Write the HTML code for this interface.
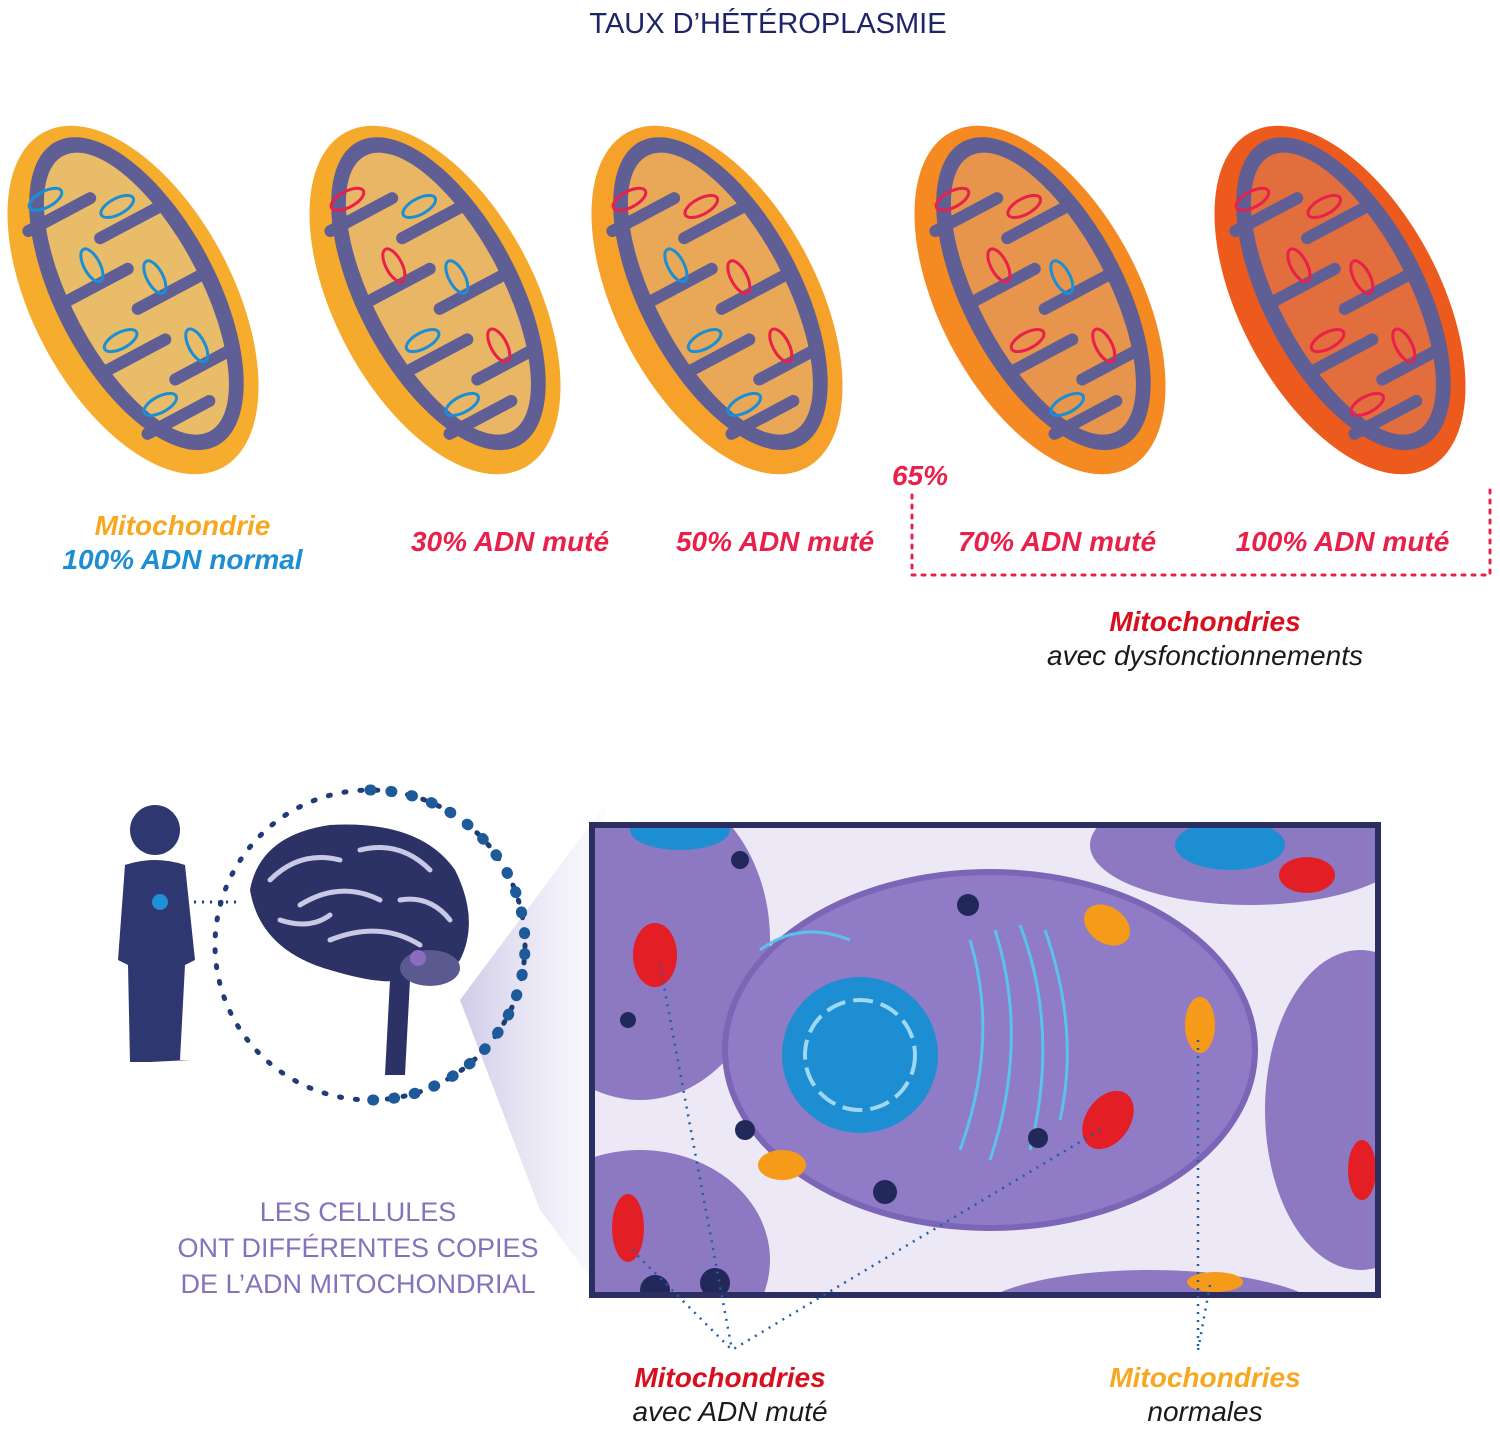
<!DOCTYPE html>
<html><head><meta charset="utf-8"><style>
html,body{margin:0;padding:0;background:#fff;}
body{width:1500px;height:1434px;position:relative;overflow:hidden;font-family:"Liberation Sans",sans-serif;}
.t{position:absolute;white-space:nowrap;text-align:center;}
.b{font-weight:bold;font-style:italic;font-size:28px;}
</style></head><body>
<svg width="1500" height="1434" style="position:absolute;left:0;top:0">
<defs>
<g id="mito">
  <ellipse cx="0" cy="0" rx="100" ry="190" />
  <ellipse cx="6" cy="-4" rx="80" ry="172" fill="#5f5f95"/>
  <ellipse cx="6" cy="-4" rx="64" ry="156" fill="currentColor" opacity="0.9"/>
  <g stroke="#5f5f95" stroke-width="12" stroke-linecap="round">
    <line x1="-60" y1="-110" x2="10" y2="-110"/>
    <line x1="70" y1="-70" x2="0" y2="-70"/>
    <line x1="-62" y1="-30" x2="10" y2="-30"/>
    <line x1="70" y1="10" x2="0" y2="10"/>
    <line x1="-62" y1="50" x2="10" y2="50"/>
    <line x1="66" y1="90" x2="0" y2="90"/>
    <line x1="-50" y1="125" x2="20" y2="125"/>
  </g>
</g>
<linearGradient id="cone" x1="0" x2="1"><stop offset="0" stop-color="#8a7cc4" stop-opacity="0.4"/><stop offset="1" stop-color="#b7aee0" stop-opacity="0.05"/></linearGradient>
</defs>
<g transform="translate(133,300) rotate(-28)" fill="#f6ad2e" color="#f8c664"><use href="#mito"/>
 <g fill="none" stroke="#1a8fd6" stroke-width="3"><ellipse cx="-30" cy="-130" rx="18" ry="8"/><ellipse cx="30" cy="-90" rx="18" ry="8"/><ellipse cx="-20" cy="-50" rx="8" ry="18"/><ellipse cx="30" cy="-10" rx="8" ry="18"/><ellipse cx="-30" cy="30" rx="18" ry="8"/><ellipse cx="35" cy="70" rx="8" ry="18"/><ellipse cx="-25" cy="105" rx="18" ry="8"/></g></g>
<g transform="translate(435,300) rotate(-28)" fill="#f6aa2c" color="#f8c060"><use href="#mito"/>
 <g fill="none" stroke-width="3"><ellipse stroke="#e8204a" cx="-30" cy="-130" rx="18" ry="8"/><ellipse stroke="#1a8fd6" cx="30" cy="-90" rx="18" ry="8"/><ellipse stroke="#e8204a" cx="-20" cy="-50" rx="8" ry="18"/><ellipse stroke="#1a8fd6" cx="30" cy="-10" rx="8" ry="18"/><ellipse stroke="#1a8fd6" cx="-30" cy="30" rx="18" ry="8"/><ellipse stroke="#e8204a" cx="35" cy="70" rx="8" ry="18"/><ellipse stroke="#1a8fd6" cx="-25" cy="105" rx="18" ry="8"/></g></g>
<g transform="translate(717,300) rotate(-28)" fill="#f6a22a" color="#f8b050"><use href="#mito"/>
 <g fill="none" stroke-width="3"><ellipse stroke="#e8204a" cx="-30" cy="-130" rx="18" ry="8"/><ellipse stroke="#e8204a" cx="30" cy="-90" rx="18" ry="8"/><ellipse stroke="#1a8fd6" cx="-20" cy="-50" rx="8" ry="18"/><ellipse stroke="#e8204a" cx="30" cy="-10" rx="8" ry="18"/><ellipse stroke="#1a8fd6" cx="-30" cy="30" rx="18" ry="8"/><ellipse stroke="#e8204a" cx="35" cy="70" rx="8" ry="18"/><ellipse stroke="#1a8fd6" cx="-25" cy="105" rx="18" ry="8"/></g></g>
<g transform="translate(1040,300) rotate(-28)" fill="#f58a22" color="#f69a45"><use href="#mito"/>
 <g fill="none" stroke-width="3"><ellipse stroke="#e8204a" cx="-30" cy="-130" rx="18" ry="8"/><ellipse stroke="#e8204a" cx="30" cy="-90" rx="18" ry="8"/><ellipse stroke="#e8204a" cx="-20" cy="-50" rx="8" ry="18"/><ellipse stroke="#1a8fd6" cx="30" cy="-10" rx="8" ry="18"/><ellipse stroke="#e8204a" cx="-30" cy="30" rx="18" ry="8"/><ellipse stroke="#e8204a" cx="35" cy="70" rx="8" ry="18"/><ellipse stroke="#1a8fd6" cx="-25" cy="105" rx="18" ry="8"/></g></g>
<g transform="translate(1340,300) rotate(-28)" fill="#ec5a1e" color="#ef7032"><use href="#mito"/>
 <g fill="none" stroke="#e8204a" stroke-width="3"><ellipse cx="-30" cy="-130" rx="18" ry="8"/><ellipse cx="30" cy="-90" rx="18" ry="8"/><ellipse cx="-20" cy="-50" rx="8" ry="18"/><ellipse cx="30" cy="-10" rx="8" ry="18"/><ellipse cx="-30" cy="30" rx="18" ry="8"/><ellipse cx="35" cy="70" rx="8" ry="18"/><ellipse cx="-25" cy="105" rx="18" ry="8"/></g></g>
<path d="M912 495 V575 H1490 V490" fill="none" stroke="#e8204a" stroke-width="3" stroke-dasharray="3 7" stroke-linecap="round"/>
<polygon points="460,1000 605,805 605,1297 540,1210" fill="url(#cone)"/>
<circle cx="370" cy="945" r="155" fill="none" stroke="#1d3c78" stroke-width="5" stroke-dasharray="2 14" stroke-linecap="round"/>
<path d="M370 790 A155 155 0 0 1 370 1100" fill="none" stroke="#1d5a9a" stroke-width="11" stroke-dasharray="1 20" stroke-linecap="round"/>
<g fill="#2f3770">
<circle cx="155" cy="830" r="25"/>
<path d="M125 865 Q155 855 185 865 L195 960 L185 965 L180 1060 L190 1060 L150 1062 L130 1062 L128 965 L118 960 Z"/>
</g>
<circle cx="160" cy="902" r="8" fill="#1e90d8"/>
<path d="M170 902 H240" stroke="#1d3c78" stroke-width="3" stroke-dasharray="2 6"/>
<g>
<path d="M250 890 Q260 835 330 825 Q420 820 455 870 Q480 920 460 960 Q440 985 400 980 Q380 985 330 970 Q260 950 250 890 Z" fill="#2c3266"/>
<path d="M390 980 L385 1075 L405 1075 L410 980 Z" fill="#2c3266"/>
<ellipse cx="430" cy="968" rx="30" ry="18" fill="#5a5a90"/>
<g stroke="#c9c9e6" stroke-width="5" fill="none" stroke-linecap="round">
<path d="M270 880 Q300 850 340 860"/><path d="M300 905 Q340 880 380 900"/><path d="M330 940 Q380 920 420 945"/><path d="M360 850 Q400 840 430 870"/><path d="M280 920 Q310 930 330 915"/><path d="M400 900 Q430 895 450 920"/>
</g>
<circle cx="418" cy="958" r="8" fill="#8a6cc0"/>
</g>
<rect x="592" y="825" width="786" height="470" fill="#ece8f6"/>
<clipPath id="rc"><rect x="592" y="825" width="786" height="470"/></clipPath>
<g clip-path="url(#rc)">
<ellipse cx="640" cy="940" rx="130" ry="160" fill="#8d79c2"/>
<ellipse cx="1250" cy="845" rx="160" ry="60" fill="#8d79c2"/>
<ellipse cx="1360" cy="1110" rx="95" ry="160" fill="#8d79c2"/>
<ellipse cx="640" cy="1260" rx="130" ry="110" fill="#8d79c2"/>
<ellipse cx="1150" cy="1320" rx="180" ry="50" fill="#8d79c2"/>
<ellipse cx="990" cy="1050" rx="265" ry="178" fill="#8f7bc6" stroke="#7b65b6" stroke-width="6"/>
<circle cx="860" cy="1055" r="78" fill="#1e8ed2"/>
<circle cx="860" cy="1055" r="55" fill="none" stroke="#9ed8f2" stroke-width="4" stroke-dasharray="20 8"/>
<g stroke="#59c3ee" stroke-width="3" fill="none"><path d="M970 940 Q1000 1040 960 1150"/><path d="M995 930 Q1030 1040 990 1160"/><path d="M1020 925 Q1060 1030 1030 1150"/><path d="M1045 930 Q1080 1030 1060 1120"/><path d="M760 950 Q800 920 850 940"/></g>
<ellipse cx="655" cy="955" rx="22" ry="32" fill="#e31e24"/>
<ellipse cx="1108" cy="1120" rx="22" ry="32" fill="#e31e24" transform="rotate(35 1108 1120)"/>
<ellipse cx="628" cy="1228" rx="16" ry="34" fill="#e31e24"/>
<ellipse cx="1307" cy="875" rx="28" ry="18" fill="#e31e24"/>
<ellipse cx="1362" cy="1170" rx="14" ry="30" fill="#e31e24"/>
<ellipse cx="1107" cy="925" rx="25" ry="18" fill="#f59a19" transform="rotate(35 1107 925)"/>
<ellipse cx="1200" cy="1025" rx="15" ry="28" fill="#f59a19"/>
<ellipse cx="782" cy="1165" rx="24" ry="15" fill="#f59a19"/>
<ellipse cx="1215" cy="1282" rx="28" ry="10" fill="#f59a19"/>
<ellipse cx="1230" cy="845" rx="55" ry="25" fill="#1e8ed2"/>
<ellipse cx="680" cy="830" rx="50" ry="20" fill="#1e8ed2"/>
<g fill="#23285a"><circle cx="740" cy="860" r="9"/><circle cx="968" cy="905" r="11"/><circle cx="745" cy="1130" r="10"/><circle cx="885" cy="1192" r="12"/><circle cx="1038" cy="1138" r="10"/><circle cx="715" cy="1283" r="15"/><circle cx="655" cy="1290" r="15"/><circle cx="628" cy="1020" r="8"/></g>
</g>
<rect x="592" y="825" width="786" height="470" fill="none" stroke="#2a2e60" stroke-width="6"/>
<g stroke="#1e5fa8" stroke-width="2.5" stroke-dasharray="2 6" fill="none">
<path d="M660 965 L732 1350"/><path d="M632 1250 L732 1350"/><path d="M1100 1130 L732 1350"/>
<path d="M1198 1040 V1350"/><path d="M1210 1285 L1198 1350"/>
</g>
</svg>
<div class="t" style="left:0;width:1536px;top:8px;font-size:29px;color:#1d2467;">TAUX D’HÉTÉROPLASMIE</div>
<div class="t b" style="left:50px;width:265px;top:510px;color:#f6a822;">Mitochondrie</div>
<div class="t b" style="left:40px;width:285px;top:544px;color:#1d8ed6;">100% ADN normal</div>
<div class="t b" style="left:390px;width:240px;top:526px;color:#e8204a;">30% ADN muté</div>
<div class="t b" style="left:655px;width:240px;top:526px;color:#e8204a;">50% ADN muté</div>
<div class="t b" style="left:890px;width:60px;top:460px;color:#e8204a;">65%</div>
<div class="t b" style="left:937px;width:240px;top:526px;color:#e8204a;">70% ADN muté</div>
<div class="t b" style="left:1220px;width:245px;top:526px;color:#e8204a;">100% ADN muté</div>
<div class="t b" style="left:1055px;width:300px;top:606px;color:#d80f1e;">Mitochondries</div>
<div class="t" style="left:1000px;width:410px;top:640px;font-size:28px;font-style:italic;color:#1a1a1a;">avec dysfonctionnements</div>
<div class="t" style="left:108px;width:500px;top:1194px;font-size:27px;line-height:36px;color:#8572bd;">LES CELLULES<br>ONT DIFFÉRENTES COPIES<br>DE L’ADN MITOCHONDRIAL</div>
<div class="t b" style="left:580px;width:300px;top:1362px;color:#d80f1e;">Mitochondries</div>
<div class="t" style="left:580px;width:300px;top:1396px;font-size:28px;font-style:italic;color:#1a1a1a;">avec ADN muté</div>
<div class="t b" style="left:1055px;width:300px;top:1362px;color:#f6a822;">Mitochondries</div>
<div class="t" style="left:1055px;width:300px;top:1396px;font-size:28px;font-style:italic;color:#1a1a1a;">normales</div>
</body></html>
